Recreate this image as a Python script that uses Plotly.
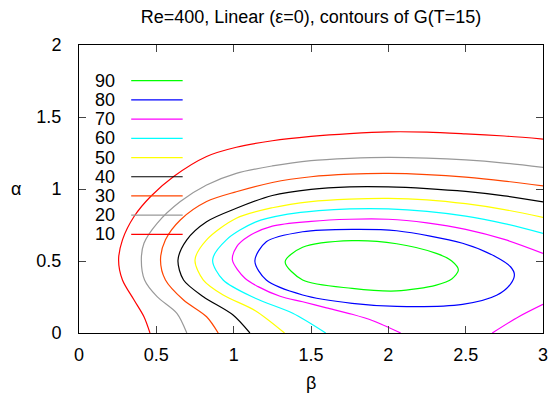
import plotly.graph_objects as go

# Contour levels and colours
levels = [10, 20, 30, 40, 50, 60, 70, 80, 90]
colors = ["#ff0000", "#999999", "#ff4500", "#000000", "#ffff00",
          "#00ffff", "#ff00ff", "#0000ff", "#00ff00"]

# Contour curves (beta, alpha)
beta_10 = [0.459, 0.42, 0.356, 0.281, 0.256, 0.281, 0.356, 0.463, 0.612, 0.825, 1.017, 1.25, 1.5, 1.75, 2.0, 2.25, 2.5, 2.75, 3.0]
alpha_10 = [0.0, 0.113, 0.229, 0.368, 0.507, 0.647, 0.809, 0.948, 1.087, 1.226, 1.29, 1.335, 1.365, 1.385, 1.397, 1.395, 1.383, 1.368, 1.347]

beta_20 = [0.697, 0.633, 0.505, 0.424, 0.403, 0.42, 0.505, 0.655, 0.825, 1.017, 1.25, 1.5, 1.75, 2.0, 2.25, 2.5, 2.75, 3.0]
alpha_20 = [0.0, 0.137, 0.252, 0.368, 0.507, 0.623, 0.762, 0.913, 1.028, 1.109, 1.16, 1.197, 1.213, 1.22, 1.215, 1.202, 1.18, 1.15]

beta_30 = [0.9, 0.825, 0.676, 0.559, 0.527, 0.559, 0.655, 0.825, 1.017, 1.25, 1.5, 1.75, 2.0, 2.25, 2.5, 2.75, 3.0]
alpha_30 = [0.0, 0.113, 0.229, 0.368, 0.507, 0.647, 0.785, 0.913, 0.981, 1.045, 1.085, 1.103, 1.108, 1.1, 1.082, 1.055, 1.021]

beta_40 = [1.105, 0.996, 0.804, 0.676, 0.64, 0.697, 0.825, 1.017, 1.25, 1.5, 1.75, 2.0, 2.25, 2.5, 2.75, 3.0]
alpha_40 = [0.0, 0.125, 0.252, 0.368, 0.507, 0.647, 0.773, 0.866, 0.955, 0.998, 1.015, 1.015, 1.003, 0.983, 0.952, 0.91]

beta_50 = [1.329, 1.14, 0.932, 0.804, 0.75, 0.825, 1.017, 1.25, 1.5, 1.75, 2.0, 2.25, 2.5, 2.75, 3.0]
alpha_50 = [0.0, 0.155, 0.264, 0.368, 0.507, 0.647, 0.797, 0.87, 0.913, 0.93, 0.935, 0.925, 0.898, 0.857, 0.803]

beta_60 = [1.595, 1.382, 1.14, 0.932, 0.864, 0.953, 1.14, 1.35, 1.55, 1.75, 2.0, 2.25, 2.5, 2.75, 3.0]
alpha_60 = [0.0, 0.137, 0.241, 0.368, 0.507, 0.647, 0.77, 0.825, 0.85, 0.862, 0.862, 0.845, 0.812, 0.76, 0.692]

beta_70 = [2.08, 1.9, 1.766, 1.6, 1.446, 1.3, 1.158, 1.073, 0.992, 1.02, 1.094, 1.25, 1.5, 1.75, 2.0, 2.25, 2.5, 2.75, 3.0]
alpha_70 = [0.0, 0.085, 0.13, 0.175, 0.217, 0.255, 0.322, 0.38, 0.507, 0.6, 0.67, 0.742, 0.775, 0.79, 0.79, 0.765, 0.72, 0.65, 0.553]
beta_70b = [2.672, 2.843, 3.0]
alpha_70b = [0.0, 0.113, 0.199]

beta_80 = [1.137, 1.211, 1.446, 1.766, 2.054, 2.48, 2.694, 2.79, 2.815, 2.79, 2.70, 2.48, 2.054, 1.766, 1.446, 1.211, 1.137]
alpha_80 = [0.5, 0.634, 0.703, 0.72, 0.71, 0.623, 0.53, 0.46, 0.405, 0.34, 0.262, 0.199, 0.185, 0.206, 0.264, 0.368, 0.5]

beta_90 = [1.333, 1.446, 1.766, 2.054, 2.31, 2.41, 2.453, 2.41, 2.31, 2.054, 1.766, 1.446, 1.333]
alpha_90 = [0.495, 0.595, 0.641, 0.62, 0.553, 0.5, 0.4375, 0.375, 0.333, 0.292, 0.31, 0.368, 0.495]

curves = [
    (beta_10, alpha_10, 0), (beta_20, alpha_20, 1), (beta_30, alpha_30, 2),
    (beta_40, alpha_40, 3), (beta_50, alpha_50, 4), (beta_60, alpha_60, 5),
    (beta_70, alpha_70, 6), (beta_70b, alpha_70b, 6), (beta_80, alpha_80, 7),
    (beta_90, alpha_90, 8),
]

x_ticks = [0, 0.5, 1, 1.5, 2, 2.5, 3]
x_tick_labels = ["0", "0.5", "1", "1.5", "2", "2.5", "3"]
y_ticks = [0, 0.5, 1, 1.5, 2]
y_tick_labels = ["0", "0.5", "1", "1.5", "2"]

FONT = "Liberation Sans, Arial, sans-serif"
FS = 18

fig = go.Figure()
for bx, ay, ci in curves:
    fig.add_trace(go.Scatter(
        x=bx, y=ay, mode="lines",
        line=dict(color=colors[ci], width=1.2, shape="spline", smoothing=0.85),
        showlegend=False, hoverinfo="skip"))

# Key (gnuplot style: label then line sample), top row is 90
shapes = []
annotations = []
row_top = 0.876
row_step = 0.0667
for i, lev in enumerate(reversed(levels)):
    ci = levels.index(lev)
    yv = row_top - i * row_step
    annotations.append(dict(x=0.081, y=yv, xref="paper", yref="paper",
                            text=str(lev), showarrow=False, xanchor="right",
                            yanchor="middle",
                            font=dict(family=FONT, size=FS, color="black")))
    shapes.append(dict(type="line", xref="paper", yref="paper",
                       x0=0.1125, x1=0.2234, y0=yv, y1=yv,
                       line=dict(color=colors[ci], width=1.2)))

annotations.append(dict(x=0.5, y=-0.174, xref="paper", yref="paper", text="β",
                        showarrow=False, xanchor="center", yanchor="middle",
                        font=dict(family=FONT, size=FS, color="black")))
annotations.append(dict(x=-0.136, y=0.5, xref="paper", yref="paper", text="α",
                        showarrow=False, xanchor="center", yanchor="middle",
                        font=dict(family=FONT, size=FS, color="black")))

fig.update_layout(
    width=552, height=390,
    margin=dict(l=71, r=12, t=37, b=65),
    paper_bgcolor="white", plot_bgcolor="white",
    title=dict(text="Re=400, Linear (ε=0), contours of G(T=15)",
               x=0.5, xref="paper", y=0.977, yref="container",
               xanchor="center", yanchor="middle",
               font=dict(family=FONT, size=FS, color="black")),
    shapes=shapes, annotations=annotations,
    showlegend=False,
)
axis_common = dict(showgrid=False, zeroline=False, showline=True, mirror="allticks",
                   linecolor="black", linewidth=1, ticks="inside", ticklen=7,
                   tickcolor="#444", tickwidth=1,
                   tickfont=dict(family=FONT, size=FS, color="black"))
fig.update_xaxes(range=[0, 3], tickvals=x_ticks, ticktext=x_tick_labels,
                 ticklabelstandoff=5, **axis_common)
fig.update_yaxes(range=[0, 2], tickvals=y_ticks, ticktext=y_tick_labels,
                 ticklabelstandoff=13, **axis_common)

fig.write_html("out.html")
